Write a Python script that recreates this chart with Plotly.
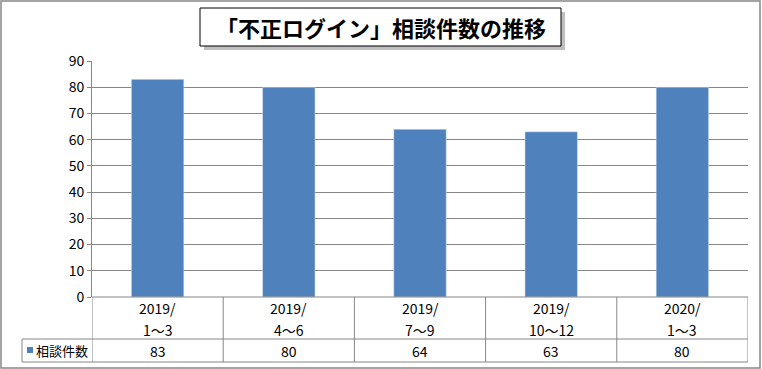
import plotly.graph_objects as go

cat_years = ["2019/", "2019/", "2019/", "2019/", "2020/"]
cat_months = ["1～3", "4～6", "7～9", "10～12", "1～3"]
values = [83, 80, 64, 63, 80]
series_name = "相談件数"
title_text = "「不正ログイン」相談件数の推移"

W, H = 762, 369
L, R, T, B = 92, 14, 61, 72
plot_h = H - T - B
plot_w = W - L - R

def py(p):  # pixel y -> paper y
    return (H - B - p) / plot_h

def px(p):  # pixel x -> paper x
    return (p - L) / plot_w

FONT = "Noto Sans CJK JP"
GRAY = "#868686"
BLUE = "#4F81BD"

xs = list(range(len(values)))
fig = go.Figure(go.Bar(x=xs, y=values, marker_color=BLUE, width=0.4, name=series_name))

shapes = []
# outer chart border
shapes.append(dict(type="rect", xref="paper", yref="paper", x0=px(1), x1=px(760), y0=py(1), y1=py(368),
                   line=dict(color=GRAY, width=1.5), layer="below"))
# title shadow and box
shapes.append(dict(type="rect", xref="paper", yref="paper", x0=px(204), x1=px(565), y0=py(12), y1=py(50),
                   line=dict(width=0), fillcolor="rgba(0,0,0,0.25)"))
shapes.append(dict(type="rect", xref="paper", yref="paper", x0=px(200), x1=px(561), y0=py(8), y1=py(46),
                   line=dict(color="black", width=1), fillcolor="white"))
# table horizontal lines
for yy, x0 in [(297, 92), (339, 22), (362, 22)]:
    shapes.append(dict(type="line", xref="paper", yref="paper", x0=px(x0), x1=px(748), y0=py(yy), y1=py(yy),
                       line=dict(color=GRAY, width=1)))
# table vertical lines (at category boundaries)
for i in range(len(values) + 1):
    shapes.append(dict(type="line", xref="x", yref="paper", x0=i - 0.5, x1=i - 0.5, y0=py(297), y1=py(362),
                       line=dict(color=GRAY, width=1)))
shapes.append(dict(type="line", xref="paper", yref="paper", x0=px(22), x1=px(22), y0=py(339), y1=py(362),
                   line=dict(color=GRAY, width=1)))
# legend key square
shapes.append(dict(type="rect", xref="paper", yref="paper", x0=px(27), x1=px(33), y0=py(347), y1=py(353),
                   line=dict(width=0), fillcolor=BLUE))

tf = dict(family=FONT, size=14, color="black")
annotations = []
annotations.append(dict(text="<b>" + title_text + "</b>", xref="paper", yref="paper", x=px(380.5), y=py(27),
                        showarrow=False, font=dict(family=FONT, size=22, color="black"),
                        xanchor="center", yanchor="middle"))
for i, (cy, cm, v) in enumerate(zip(cat_years, cat_months, values)):
    annotations.append(dict(text=cy, xref="x", yref="paper", x=i, y=py(318.5), showarrow=False,
                            font=tf, xanchor="center", yanchor="bottom", borderpad=0))
    annotations.append(dict(text=cm, xref="x", yref="paper", x=i, y=py(318.5), showarrow=False,
                            font=tf, xanchor="center", yanchor="top", borderpad=0))
    annotations.append(dict(text=str(v), xref="x", yref="paper", x=i, y=py(350.5), showarrow=False,
                            font=tf, xanchor="center", yanchor="middle", borderpad=0))
annotations.append(dict(text=series_name, xref="paper", yref="paper", x=px(35), y=py(350.5), showarrow=False,
                        font=dict(family=FONT, size=13, color="black"), xanchor="left", yanchor="middle",
                        borderpad=0))

fig.update_layout(
    width=W, height=H,
    margin=dict(l=L, r=R, t=T, b=B),
    paper_bgcolor="white", plot_bgcolor="white",
    showlegend=False,
    shapes=shapes,
    annotations=annotations,
    xaxis=dict(range=[-0.5, len(values) - 0.5], showticklabels=False, showgrid=False, zeroline=False,
               showline=False, ticks=""),
    yaxis=dict(range=[0, 90], dtick=10, showgrid=True, gridcolor=GRAY, gridwidth=1, zeroline=False,
               showline=True, linecolor=GRAY, linewidth=1, ticks="outside", ticklen=4, tickcolor=GRAY,
               tickfont=dict(family=FONT, size=14, color="black")),
    bargap=0.6,
)

fig.write_html("out.html", config={"displayModeBar": False},
               post_script="document.body.style.margin='0';document.body.style.padding='0';")
